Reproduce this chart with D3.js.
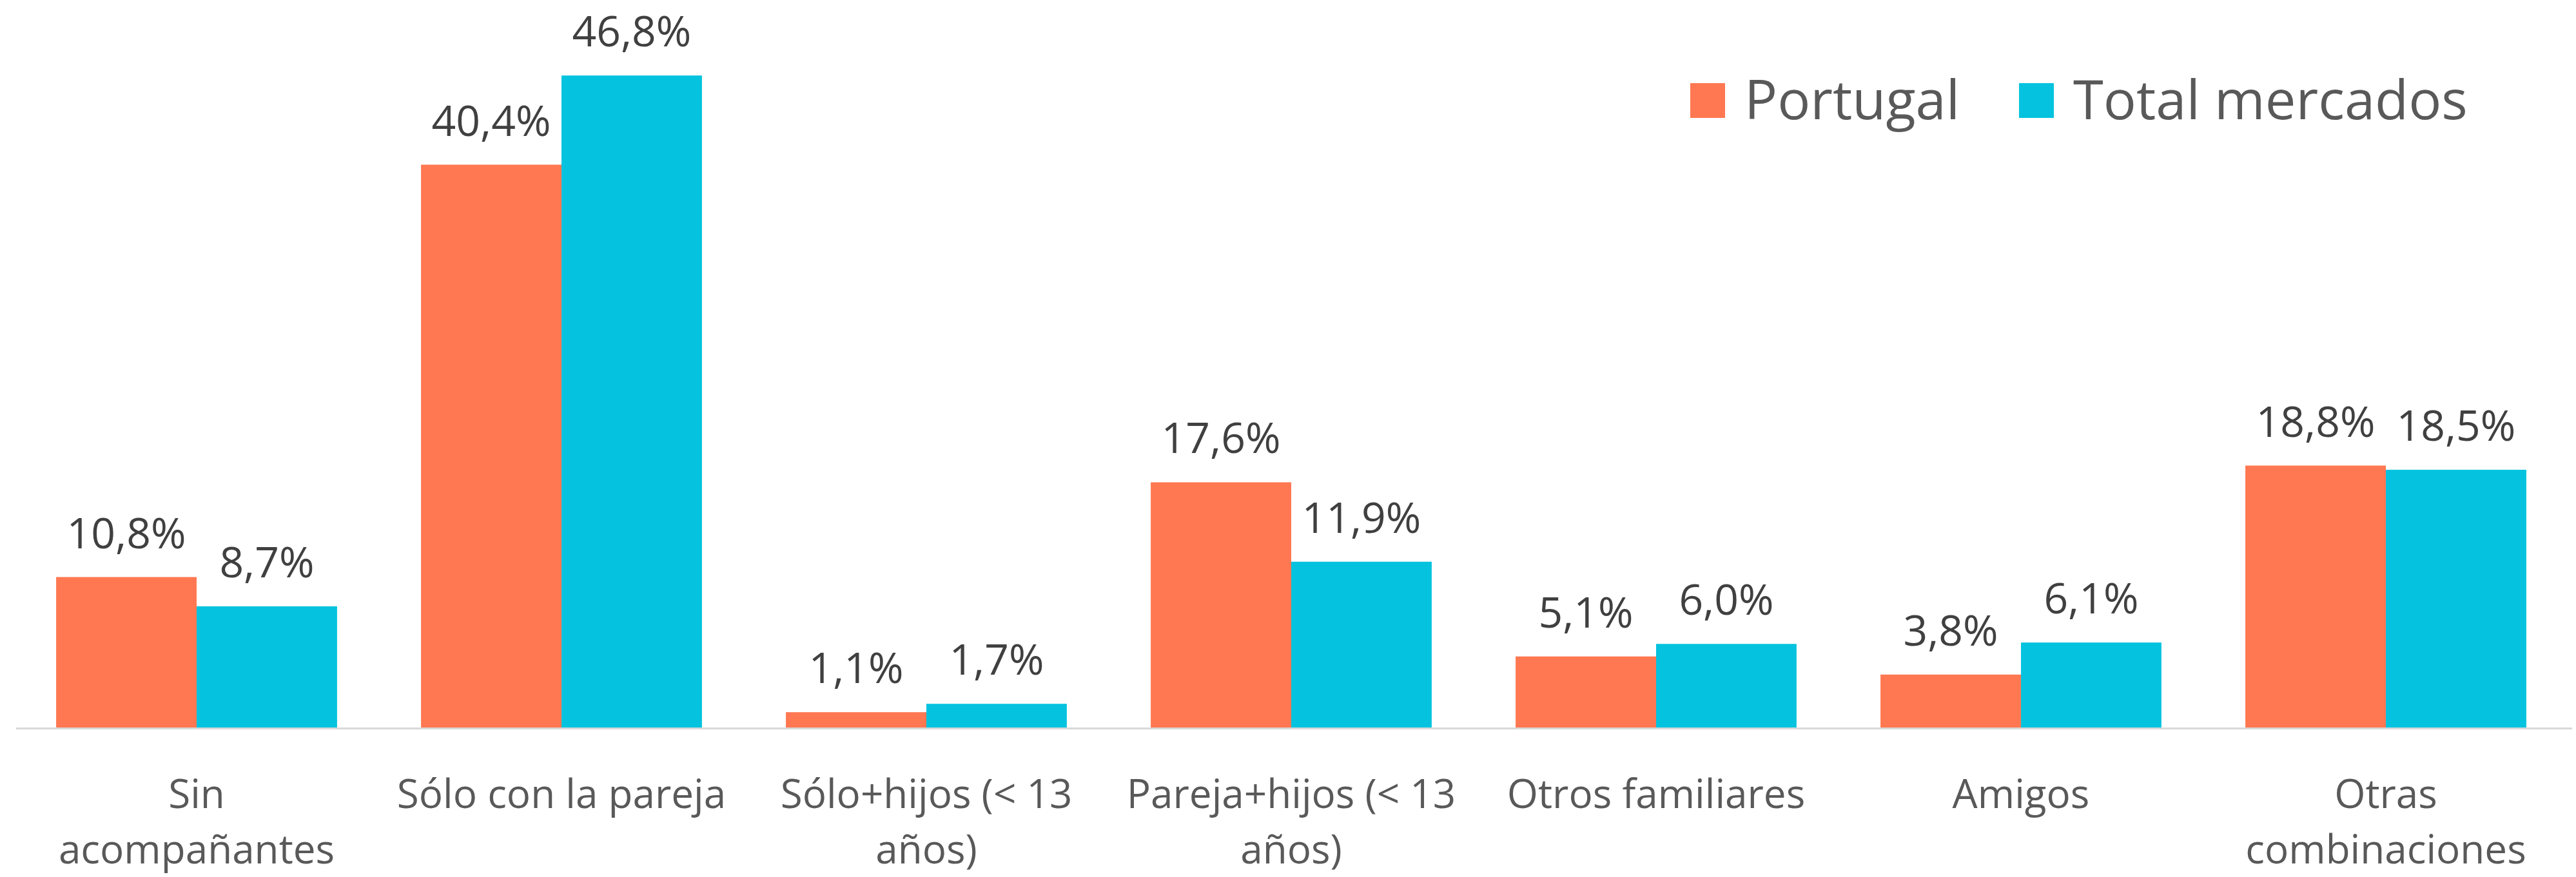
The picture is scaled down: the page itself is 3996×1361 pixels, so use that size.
<!DOCTYPE html>
<html>
<head>
<meta charset="utf-8">
<script src="https://cdnjs.cloudflare.com/ajax/libs/d3/7.8.5/d3.min.js"></script>
<style>
  html, body { margin: 0; padding: 0; background: #fff; }
  svg text { font-family: "Open Sans", "Noto Sans", sans-serif; }
</style>
</head>
<body>
<svg id="chart" width="3996" height="1361"></svg>
<script>
// categories (tick labels, already split in lines)
var categories = [
  ["Sin", "acompañantes"],
  ["Sólo con la pareja"],
  ["Sólo+hijos (< 13", "años)"],
  ["Pareja+hijos (< 13", "años)"],
  ["Otros familiares"],
  ["Amigos"],
  ["Otras", "combinaciones"]
];
var seriesNames = ["Portugal", "Total mercados"];
var portugal = [10.8, 40.4, 1.1, 17.6, 5.1, 3.8, 18.8];
var totalMercados = [8.7, 46.8, 1.7, 11.9, 6.0, 6.1, 18.5];
var colors = ["#FF7852", "#05C3DE"];

var svg = d3.select("#chart");
var baseY = 1129;

var x0 = d3.scaleBand()
    .domain(d3.range(categories.length))
    .range([22, 3984])
    .paddingInner(0.23)
    .paddingOuter(0.115);

var x1 = d3.scaleBand()
    .domain(d3.range(seriesNames.length))
    .range([0, x0.bandwidth()]);

var y = d3.scaleLinear()
    .domain([0, 50])
    .range([baseY, baseY - 50 * 21.62]);

var fmt = function(v) { return d3.format(".1f")(v).replace(".", ",") + "%"; };

var rows = categories.map(function(c, i) {
  return { i: i, values: [portugal[i], totalMercados[i]] };
});

var groups = svg.append("g").selectAll("g")
    .data(rows)
  .enter().append("g")
    .attr("transform", function(d) { return "translate(" + x0(d.i) + ",0)"; });

groups.selectAll("rect")
    .data(function(d) { return d.values; })
  .enter().append("rect")
    .attr("x", function(v, j) { return x1(j); })
    .attr("y", function(v) { return y(v); })
    .attr("width", x1.bandwidth())
    .attr("height", function(v) { return baseY - y(v); })
    .style("fill", function(v, j) { return colors[j]; });

groups.selectAll("text.val")
    .data(function(d) { return d.values; })
  .enter().append("text")
    .attr("class", "val")
    .attr("x", function(v, j) { return x1(j) + x1.bandwidth() / 2; })
    .attr("y", function(v) { return y(v) - 45; })
    .attr("text-anchor", "middle")
    .style("font-size", "66px")
    .style("fill", "#404040")
    .text(fmt);

// baseline
svg.append("line")
    .attr("x1", 25).attr("x2", 3990)
    .attr("y1", baseY + 1.5).attr("y2", baseY + 1.5)
    .style("stroke", "#D9D9D9")
    .style("stroke-width", 3);

// category labels
var cat = svg.append("g").selectAll("text")
    .data(categories)
  .enter().append("text")
    .attr("text-anchor", "middle")
    .attr("x", function(d, i) { return x0(i) + x0.bandwidth() / 2; })
    .attr("y", 1254)
    .style("font-size", "62px")
    .style("fill", "#595959");

cat.selectAll("tspan")
    .data(function(d) { return d; })
  .enter().append("tspan")
    .attr("x", function() { return d3.select(this.parentNode).attr("x"); })
    .attr("dy", function(d, i) { return i === 0 ? 0 : 86; })
    .text(function(d) { return d; });

// legend
var legendX = [2622, 3132];
var legend = svg.append("g").selectAll("g")
    .data(seriesNames)
  .enter().append("g")
    .attr("transform", function(d, i) { return "translate(" + legendX[i] + ",129)"; });

legend.append("rect")
    .attr("width", 54)
    .attr("height", 54)
    .style("fill", function(d, i) { return colors[i]; });

legend.append("text")
    .attr("x", 84)
    .attr("y", 56)
    .style("font-size", "85px")
    .style("fill", "#595959")
    .text(function(d) { return d; });
</script>
</body>
</html>
